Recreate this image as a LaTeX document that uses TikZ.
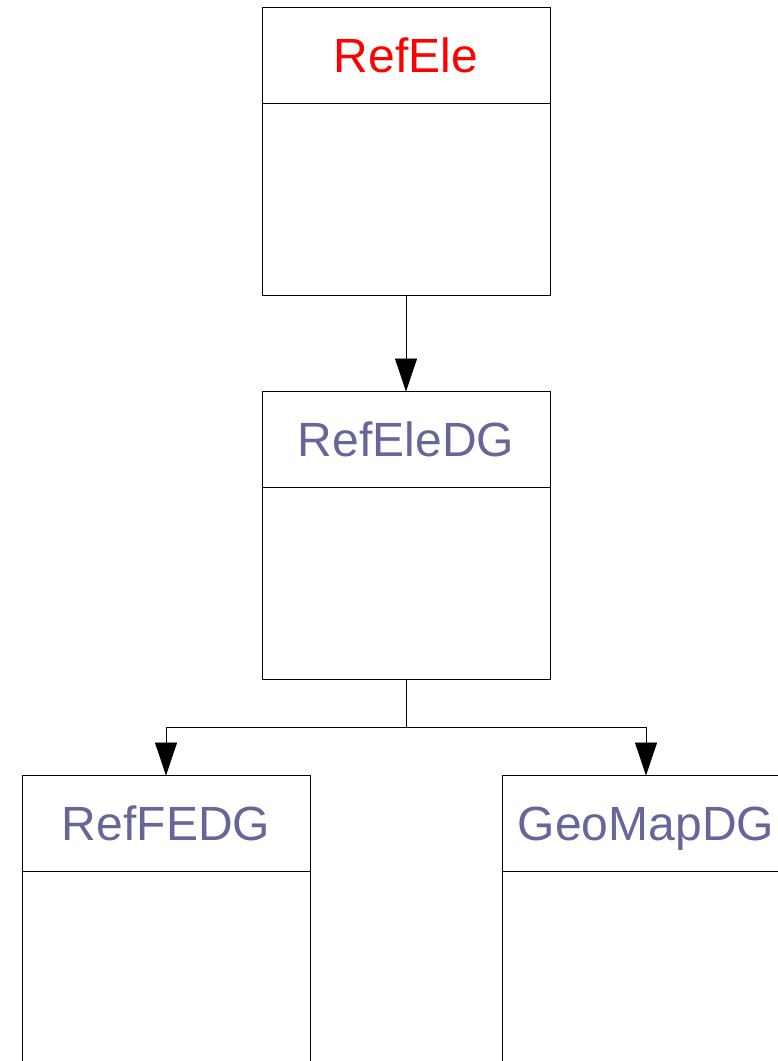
\documentclass[tikz,border=0pt]{standalone}
\usepackage{fontspec}
\setmainfont{Liberation Sans}
\usetikzlibrary{positioning,arrows.meta}
\tikzset{arista/.style={line width=0.8pt},
  flecha/.style={arista,-{Triangle[width=22pt,length=33pt]}},
  titulo/.style={draw,line width=0.8pt,outer sep=0pt,minimum width=288pt,minimum height=96pt,inner sep=0pt,text height=34.5pt,text depth=0pt,font=\fontsize{48}{48}\selectfont},
  cuerpo/.style={draw,line width=0.8pt,outer sep=0pt,minimum width=288pt,minimum height=192pt,inner sep=0pt}}
\definecolor{rojo}{RGB}{255,0,0}
\definecolor{pizarra}{RGB}{102,102,153}

\begin{document}
\begin{tikzpicture}
            \useasboundingbox (0,0) rectangle (778pt,-1061pt);
            \node[titulo, text=rojo] (refele) at (406pt,-55.5pt) {RefEle};
            \node[cuerpo, below=0pt of refele] (refeleb) {};
            \node[titulo, text=pizarra, below=96pt of refeleb] (refeledg) {RefEleDG};
            \node[cuerpo, below=0pt of refeledg] (refeledgb) {};
            \node[titulo, text=pizarra, below=96pt of refeledgb, xshift=-240pt] (reffedg) {RefFEDG};
            \node[cuerpo, below=0pt of reffedg] (reffedgb) {};
            \node[titulo, text=pizarra, below=96pt of refeledgb, xshift=240pt] (geomapdg) {GeoMapDG};
            \node[cuerpo, below=0pt of geomapdg] (geomapdgb) {};
            \coordinate[below=48pt of refeledgb] (rama);

            \draw[flecha] (refeleb) to (refeledg);
            \draw[arista] (refeledgb) to (rama);
            \draw[flecha] (rama) -| (reffedg);
            \draw[flecha] (rama) -| (geomapdg);
        \end{tikzpicture}
\end{document}
